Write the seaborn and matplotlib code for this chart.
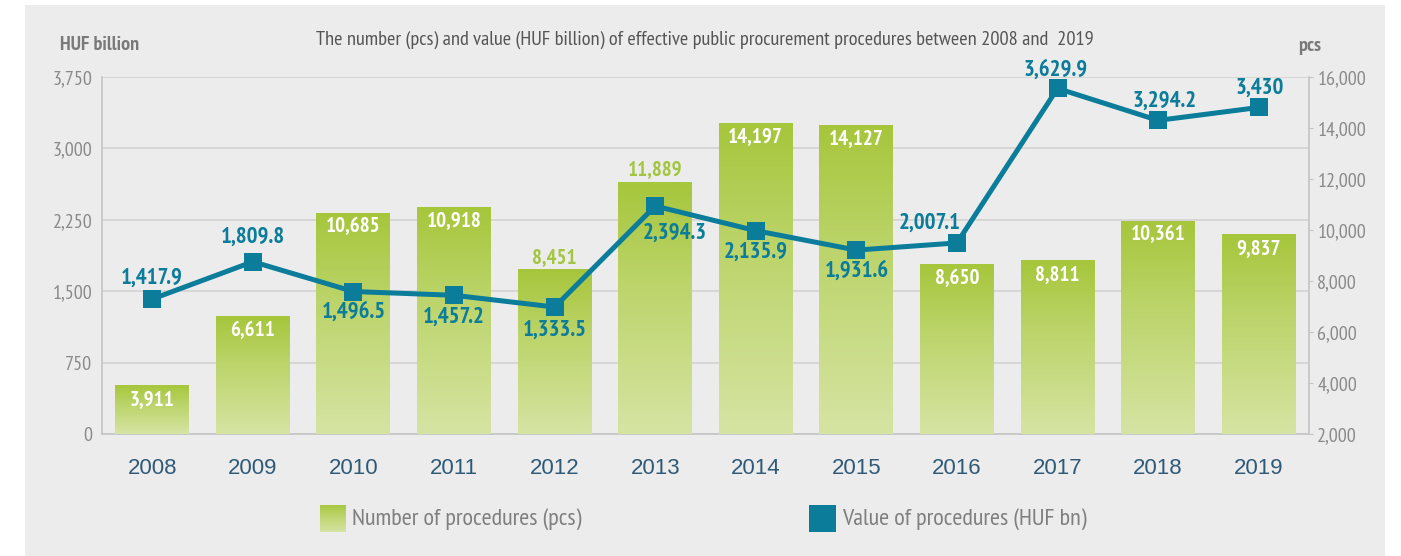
import numpy as np
import pandas as pd
import seaborn as sns
import matplotlib.pyplot as plt
from matplotlib import font_manager
from matplotlib.colors import LinearSegmentedColormap
from matplotlib.patches import Rectangle

# 데이터
years = ["2008", "2009", "2010", "2011", "2012", "2013",
         "2014", "2015", "2016", "2017", "2018", "2019"]
procedures_pcs = [3911, 6611, 10685, 10918, 8451, 11889,
                  14197, 14127, 8650, 8811, 10361, 9837]
value_huf_bn = [1417.9, 1809.8, 1496.5, 1457.2, 1333.5, 2394.3,
                2135.9, 1931.6, 2007.1, 3629.9, 3294.2, 3430]
left_ticks = [0, 750, 1500, 2250, 3000, 3750]
right_ticks = [2000, 4000, 6000, 8000, 10000, 12000, 14000, 16000]

# 라벨 위치 (픽셀 오프셋, 위쪽이 +)
bar_label_inside = [True, True, True, True, False, False,
                    True, True, True, True, True, True]
line_label_offsets = [(0, 21), (0, 24), (0, -21), (0, -22), (0, -23), (20, -27),
                      (0, -22), (0, -21), (-27, 20), (-2, 18), (6, 19), (1, 19)]

# 폰트
names = {f.name for f in font_manager.fontManager.ttflist}
NARROW = "PT Sans Narrow" if "PT Sans Narrow" in names else "Liberation Sans"
REGULAR = "Liberation Sans"

TEAL = "#0b7c99"
GREEN_TOP = "#a6c63b"
GREEN_MID = "#bcd46a"
GREEN_BOTTOM = "#d6e4a3"
GREEN_TEXT = "#a3c540"
GRAY_BG = "#ececec"

df = pd.DataFrame({"year": years, "pcs": procedures_pcs, "value": value_huf_bn})
df["pos"] = np.arange(len(df))

W, H = 1401, 556
fig = plt.figure(figsize=(W / 100, H / 100), dpi=100)
fig.patch.set_facecolor("white")
fig.patches.append(Rectangle((25 / W, 0), 1360 / W, 551 / H, transform=fig.transFigure,
                             facecolor=GRAY_BG, edgecolor="none", zorder=-10))

ax = fig.add_axes([102 / W, 1 - 434 / H, 1207 / W, 357 / H])
ax.set_facecolor("none")
ax2 = ax.twinx()
ax3 = ax.twinx()

# 막대 (오른쪽 축)
sns.barplot(data=df, x="year", y="pcs", ax=ax2, color=GREEN_TOP, width=0.735,
            saturation=1, errorbar=None)
ax2.set_ylim(2000, 16000)
ax2.set_xlim(-0.5, 11.5)

cmap = LinearSegmentedColormap.from_list("g", [(0, GREEN_BOTTOM), (0.6, GREEN_MID), (1, GREEN_TOP)])
grad = np.linspace(0, 1, 256).reshape(-1, 1)
for p in list(ax2.patches):
    x0, w, top = p.get_x(), p.get_width(), p.get_height()
    im = ax2.imshow(grad, extent=[x0, x0 + w, 2000, top], origin="lower",
                    aspect="auto", cmap=cmap, zorder=p.get_zorder())
    im.set_clip_path(p)
    p.set_facecolor("none")
    p.set_edgecolor("none")
ax2.set_ylim(2000, 16000)
ax2.set_xlim(-0.5, 11.5)

for i, (h, inside) in enumerate(zip(procedures_pcs, bar_label_inside)):
    ax2.annotate(f"{h:,}", (i, h), xytext=(0, -14 if inside else 12),
                 textcoords="offset pixels", ha="center", va="center",
                 fontsize=15, fontweight="bold", family=NARROW,
                 color="white" if inside else GREEN_TEXT, zorder=5)

# 선 (왼쪽 축)
sns.lineplot(data=df, x="pos", y="value", ax=ax3, color=TEAL, linewidth=3.6,
             marker="s", markersize=12.5, markeredgewidth=0)
ax3.set_ylim(0, 3750)
ax3.set_xlim(-0.5, 11.5)
for i, (v, off) in enumerate(zip(value_huf_bn, line_label_offsets)):
    ax3.annotate(f"{v:,}", (i, v), xytext=off, textcoords="offset pixels",
                 ha="center", va="center", fontsize=16.5, fontweight="bold",
                 family=NARROW, color=TEAL)

# 축 설정
ax.set_ylim(0, 3750)
ax.set_xlim(-0.5, 11.5)
ax.set_yticks(left_ticks)
ax.set_yticklabels([f"{t:,}" for t in left_ticks], family=NARROW, fontsize=14.5, color="#8a8a8a")
ax.yaxis.grid(True, color="#d2d2d2", linewidth=1.2)
ax.set_axisbelow(True)
ax.tick_params(axis="y", length=0, pad=7)
ax.set_xticks(range(len(years)))
ax.set_xticklabels(years, family=REGULAR, fontsize=16, color="#2e5a78")
ax.tick_params(axis="x", length=0, pad=17)
for s in ["left", "bottom", "right"]:
    ax.spines[s].set_color("#c4c4c4")
    ax.spines[s].set_linewidth(1.2)
ax.spines["top"].set_visible(False)

ax2.set_yticks(right_ticks)
ax2.set_yticklabels([f"{t:,}" for t in right_ticks], family=NARROW, fontsize=14.5, color="#8a8a8a")
ax2.tick_params(axis="y", length=3, color="#c4c4c4", pad=3)
ax2.set_xlabel("")
ax2.set_ylabel("")
for s in ax2.spines.values():
    s.set_visible(False)

ax3.set_xlabel("")
ax3.set_ylabel("")
ax3.set_yticks([])
for s in ax3.spines.values():
    s.set_visible(False)

# 제목 / 단위
fig.text(705 / W, 1 - 40 / H, "The number (pcs) and value (HUF billion) of effective public "
         "procurement procedures between 2008 and  2019", ha="center", va="center",
         family=NARROW, fontsize=14.7, color="#555555")
fig.text(60 / W, 1 - 45 / H, "HUF billion", ha="left", va="center", family=NARROW,
         fontsize=14.5, fontweight="bold", color="#7a7a7a")
fig.text(1298 / W, 1 - 46 / H, "pcs", ha="left", va="center", family=NARROW,
         fontsize=14.5, fontweight="bold", color="#7a7a7a")

# 범례
lax = fig.add_axes([320 / W, 1 - 532 / H, 26 / W, 27 / H])
lax.imshow(grad, origin="lower", aspect="auto", cmap=cmap)
lax.axis("off")
fig.text(352 / W, 1 - 519 / H, "Number of procedures (pcs)", ha="left", va="center",
         family=NARROW, fontsize=17.5, color="#7f7f7f")
fig.patches.append(Rectangle((809 / W, 1 - 532 / H), 27 / W, 27 / H, transform=fig.transFigure,
                             facecolor=TEAL, edgecolor="none"))
fig.text(842 / W, 1 - 519 / H, "Value of procedures (HUF bn)", ha="left", va="center",
         family=NARROW, fontsize=17.5, color="#7f7f7f")

fig.savefig("out.png", dpi=100)
